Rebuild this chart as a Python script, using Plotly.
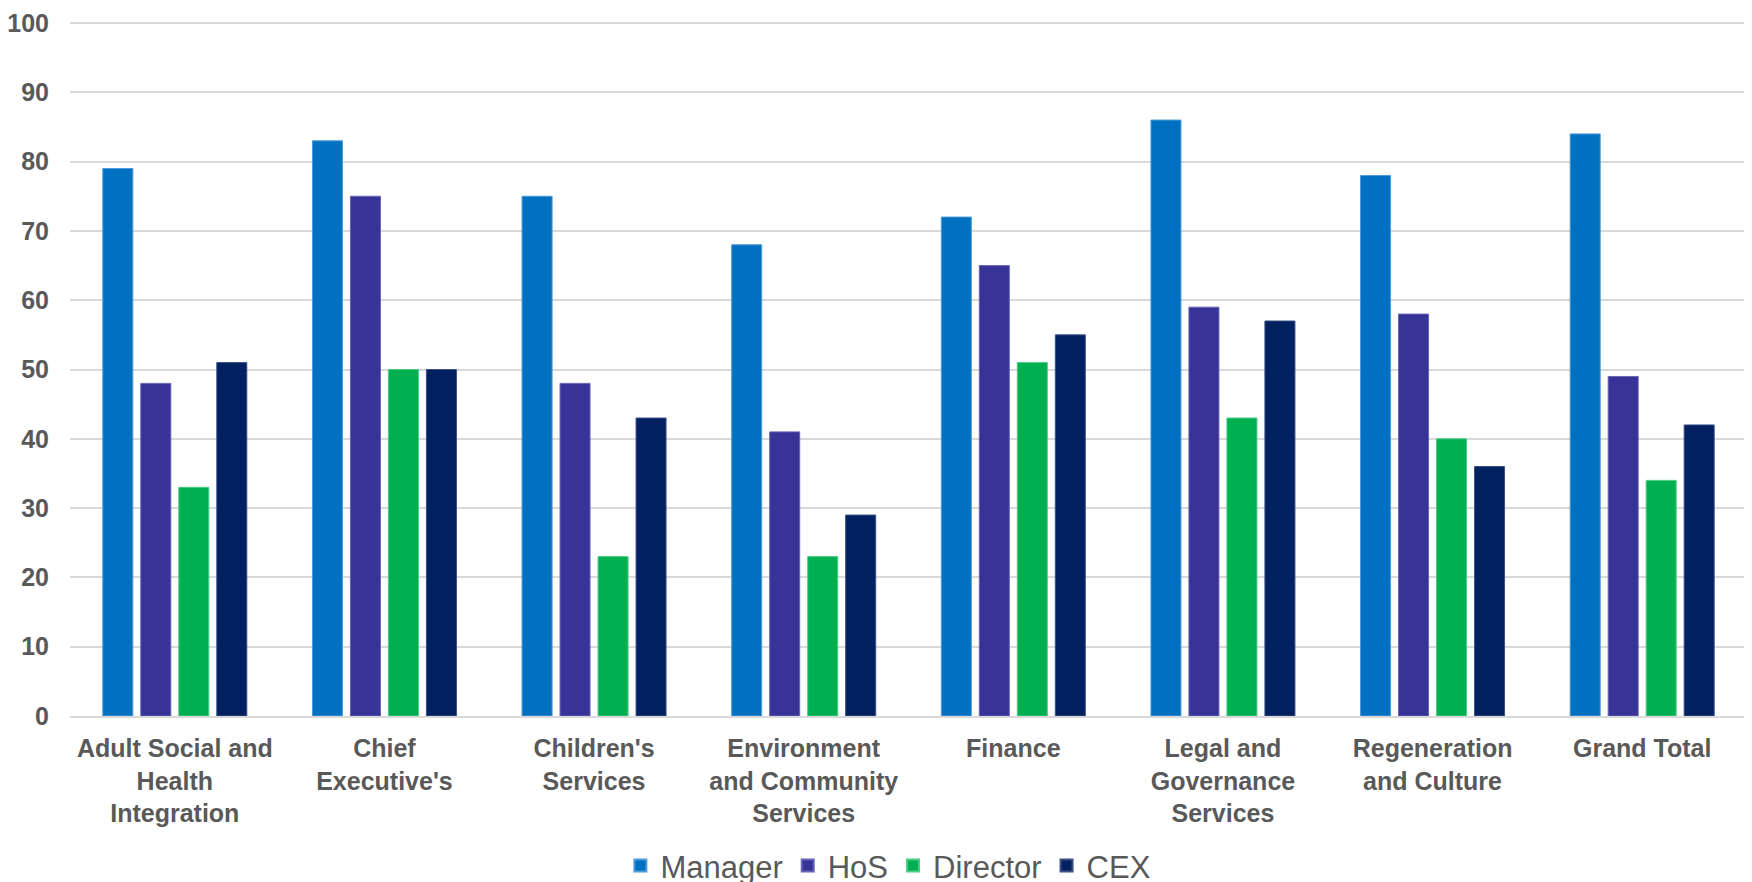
import plotly.graph_objects as go

categories = [
    "Adult Social and<br>Health<br>Integration",
    "Chief<br>Executive's",
    "Children's<br>Services",
    "Environment<br>and Community<br>Services",
    "Finance",
    "Legal and<br>Governance<br>Services",
    "Regeneration<br>and Culture",
    "Grand Total",
]
manager = [79, 83, 75, 68, 72, 86, 78, 84]
hos = [48, 75, 48, 41, 65, 59, 58, 49]
director = [33, 50, 23, 23, 51, 43, 40, 34]
cex = [51, 50, 43, 29, 55, 57, 36, 42]

series = [
    ("Manager", manager, "#0070C0", "#4A9BD8"),
    ("HoS", hos, "#373397", "#6763B5"),
    ("Director", director, "#00B050", "#4CCB85"),
    ("CEX", cex, "#002060", "#3A4F85"),
]

fig = go.Figure()
for name, vals, col, lcol in series:
    fig.add_trace(go.Bar(
        name=name, x=categories, y=vals,
        marker=dict(color=col, line=dict(color=lcol, width=1)),
    ))

font_family = "Liberation Sans, Arial, sans-serif"
fig.update_layout(
    width=1752, height=882,
    margin=dict(l=62, r=13, t=14, b=174, autoexpand=False),
    paper_bgcolor="white", plot_bgcolor="white",
    barmode="group", bargap=0.275, bargroupgap=0.21,
    font=dict(family=font_family, color="#595959"),
    showlegend=True,
    legend=dict(
        orientation="h", x=0.488, xanchor="center", y=-0.216, yanchor="middle",
        font=dict(size=31, color="#595959", family=font_family),
        itemsizing="constant", traceorder="normal",
    ),
    xaxis=dict(
        tickfont=dict(size=25, color="#595959", family=font_family),
        showgrid=False, showline=True, linecolor="#D9D9D9", linewidth=2,
        ticks="", ticklabelstandoff=9, automargin=False,
    ),
    yaxis=dict(
        range=[0, 100.15], tick0=0, dtick=10,
        tickfont=dict(size=25, color="#595959", family=font_family),
        showgrid=True, gridcolor="#D9D9D9", gridwidth=1.5,
        zeroline=False, showline=False, ticks="", ticklabelstandoff=20,
        automargin=False, ticklabeloverflow="allow",
    ),
)
fig.update_xaxes(tickprefix="<b>", ticksuffix="</b>")
fig.update_yaxes(tickprefix="<b>", ticksuffix="</b>")

fig.write_html("out.html")
